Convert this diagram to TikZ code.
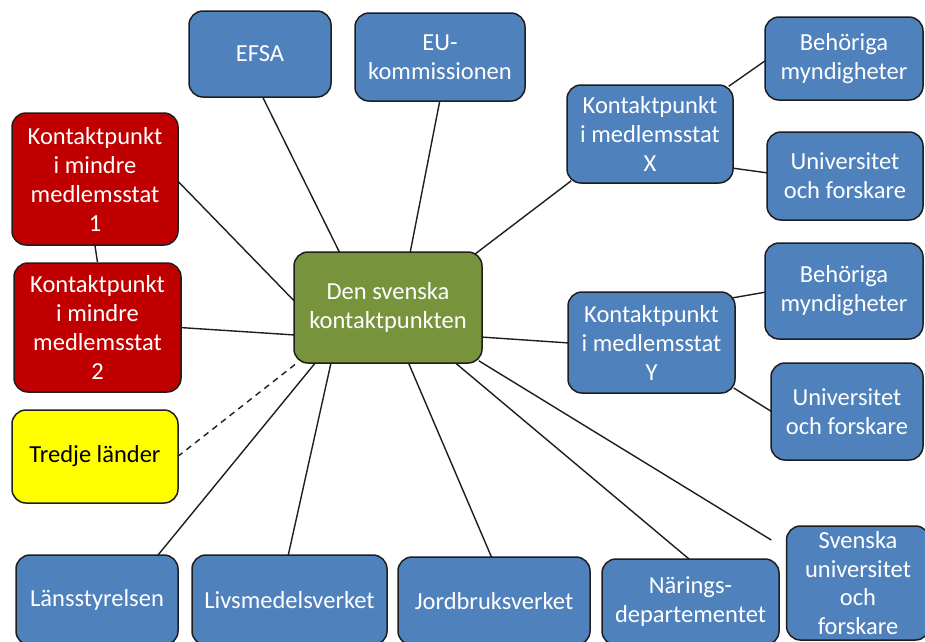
\documentclass[tikz,border=0pt]{standalone}
\usepackage{fontspec}
\setmainfont{Carlito}
\usetikzlibrary{calc}
\pgfdeclarelayer{bg}
\pgfsetlayers{bg,main}
\definecolor{boxblue}{RGB}{79,129,189}
\definecolor{boxred}{RGB}{192,0,0}
\definecolor{boxgreen}{RGB}{119,147,60}
\definecolor{boxyellow}{RGB}{255,255,0}
\definecolor{edgecol}{RGB}{30,30,30}
\begin{document}
\begin{tikzpicture}[x=1pt,y=-1pt,
  box/.style={draw=edgecol,line width=1.5pt,rounded corners=14pt,align=center,
    text=white,font=\fontsize{24.5}{29}\selectfont,inner sep=0pt},
  bluebox/.style={box,fill=boxblue},
  redbox/.style={box,fill=boxred},
  link/.style={draw=edgecol,line width=1.4pt}]
\useasboundingbox (0,0) rectangle (925,641);
\clip (0,0) rectangle (925,641);

% top
\node[bluebox,minimum width=142,minimum height=86] (efsa) at (260,54) {EFSA};
\node[bluebox,minimum width=170,minimum height=88] (eu) at (440,57) {EU-\\kommissionen};
% left
\node[redbox,minimum width=166,minimum height=132] (k1) at (95,179) {Kontaktpunkt\\i mindre\\medlemsstat\\1};
\node[redbox,minimum width=167,minimum height=129] (k2) at (97.5,327.5) {Kontaktpunkt\\i mindre\\medlemsstat\\2};
\node[box,fill=boxyellow,text=black,minimum width=166,minimum height=93] (tredje) at (95,456.5) {Tredje länder};
% center
\node[box,fill=boxgreen,minimum width=188,minimum height=111] (ctr) at (388,307.5) {Den svenska\\kontaktpunkten};
% right
\node[bluebox,minimum width=166,minimum height=98] (kx) at (650,134) {Kontaktpunkt\\i medlemsstat\\X};
\node[bluebox,minimum width=158,minimum height=83] (beh1) at (844,58.5) {Behöriga\\myndigheter};
\node[bluebox,minimum width=156,minimum height=88] (univ1) at (845,176) {Universitet\\och forskare};
\node[bluebox,minimum width=167,minimum height=101] (ky) at (651.5,342.5) {Kontaktpunkt\\i medlemsstat\\Y};
\node[bluebox,minimum width=158,minimum height=96] (beh2) at (844,291) {Behöriga\\myndigheter};
\node[bluebox,minimum width=152,minimum height=97] (univ2) at (847,411.5) {Universitet\\och forskare};
% bottom
\node[bluebox,minimum width=162,minimum height=90] (lans) at (97,600) {Länsstyrelsen};
\node[bluebox,minimum width=195,minimum height=90] (livs) at (289.5,600) {Livsmedelsverket};
\node[bluebox,minimum width=192,minimum height=88] (jord) at (494,601) {Jordbruksverket};
\node[bluebox,minimum width=177,minimum height=86] (nar) at (690.5,602) {Närings-\\departementet};
\node[bluebox,minimum width=143,minimum height=114,font=\fontsize{24.5}{28.5}\selectfont] (sv) at (858,583) {Svenska\\universitet\\och\\forskare};
\coordinate (svend) at ($(sv.west)+(-14.5,-43)$);

\begin{pgfonlayer}{bg}
\fill[white] (0,0) rectangle (925,641);
\draw[link] ($(efsa.south)+(2,-2)$) -- ($(ctr.north)+(-48,2)$);
\draw[link] ($(eu.south)+(0,-2)$) -- ($(ctr.north)+(22,2)$);
\draw[link] ($(ctr.north east)+(-8,3)$) -- ($(kx.south west)+(5,-3)$);
\draw[link] ($(k1.east)+(-2,1)$) -- ($(ctr.west)+(2,-5.5)$);
\draw[link] (k1.south) -- (k2.north);
\draw[link] ($(k2.east)+(-2,0)$) -- ($(ctr.west)+(2,27.5)$);
\draw[link,dash pattern=on 6pt off 5pt] ($(tredje.east)+(-1,0)$) -- ($(ctr.south west)+(4,-1)$);
\draw[link] ($(ctr.east)+(-2,29.5)$) -- ($(ky.west)+(2,0.5)$);
\draw[link] ($(ctr.south west)+(23,-2)$) -- ($(lans.north)+(60,2)$);
\draw[link] ($(ctr.south west)+(38,-2)$) -- ($(livs.north)+(-1.5,2)$);
\draw[link] ($(ctr.south)+(20,-2)$) -- ($(jord.north)+(-2,2)$);
\draw[link] ($(ctr.south)+(66,-2)$) -- ($(nar.north)+(0,2)$);
\draw[link] ($(ctr.south east)+(-4,-3)$) -- (svend);
\draw[link] ($(kx.north east)+(-5,2)$) -- ($(beh1.west)+(2,1.5)$);
\draw[link] ($(kx.east)+(-2,34)$) -- ($(univ1.west)+(2,-3)$);
\draw[link] ($(ky.east)+(-4,-44.5)$) -- ($(beh2.west)+(2,1)$);
\draw[link] ($(ky.east)+(-2,45.5)$) -- ($(univ2.west)+(2,0.5)$);
\end{pgfonlayer}
\end{tikzpicture}
\end{document}
